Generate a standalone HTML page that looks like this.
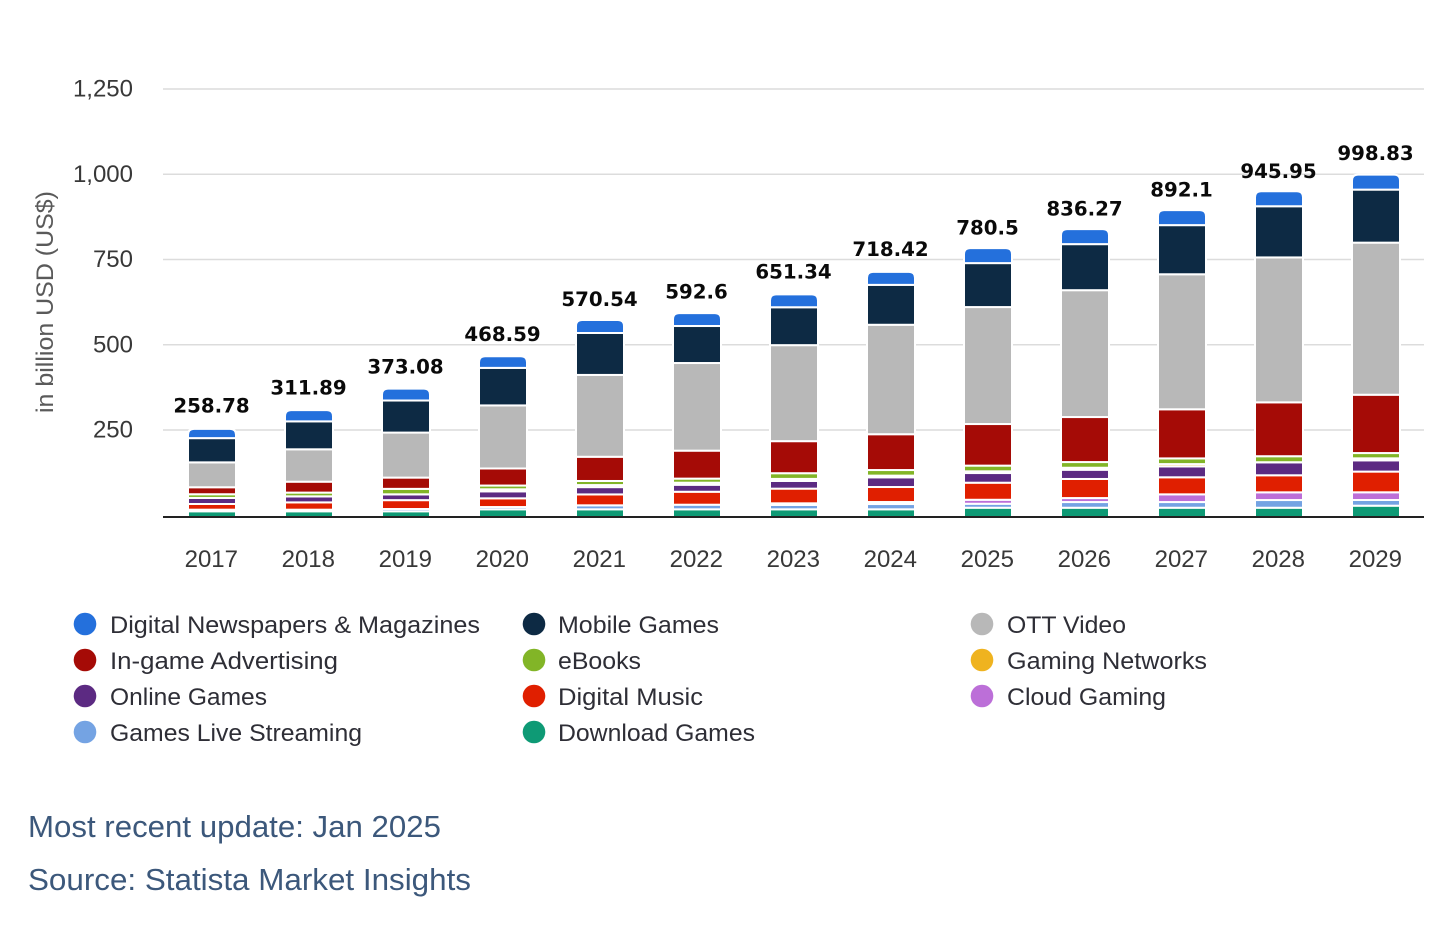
<!DOCTYPE html>
<html lang="en">
<head>
<meta charset="utf-8">
<title>Digital media revenue chart</title>
<style>
html,body{margin:0;padding:0;background:#fff;width:1456px;height:928px;overflow:hidden}
svg{display:block}
text{font-family:"Liberation Sans",sans-serif}
.tick{font-size:24px;fill:#383838}
.leg{font-size:24.5px;fill:#2e2e36}
.total{font-family:"DejaVu Sans",sans-serif;font-size:19.8px;font-weight:bold;fill:#0a0a0a}
.foot{font-size:31px;fill:#3c587b}
</style>
</head>
<body>
<svg id="chart" width="1456" height="928" viewBox="0 0 1456 928" xmlns="http://www.w3.org/2000/svg">
  <g id="grid"></g>
  <g id="yticks"></g>
  <text transform="translate(53,302) rotate(-90)" text-anchor="middle" font-size="24" fill="#5a5a5a" textLength="222" lengthAdjust="spacingAndGlyphs">in billion USD (US$)</text>
  <g id="bars"></g>
  <line x1="163" x2="1424" y1="517" y2="517" stroke="#222" stroke-width="2"/>
  <g id="xticks"></g>
  <g id="totals"></g>

  <g>
    <g><circle cx="85" cy="624" r="11.3" fill="#2470DC"/><text class="leg" x="110" y="633" textLength="370" lengthAdjust="spacingAndGlyphs">Digital Newspapers &amp; Magazines</text></g>
    <g><circle cx="534" cy="624" r="11.3" fill="#0D2A44"/><text class="leg" x="558" y="633" textLength="161" lengthAdjust="spacingAndGlyphs">Mobile Games</text></g>
    <g><circle cx="982" cy="624" r="11.3" fill="#B8B8B8"/><text class="leg" x="1007" y="633" textLength="119" lengthAdjust="spacingAndGlyphs">OTT Video</text></g>
    <g><circle cx="85" cy="660" r="11.3" fill="#A50B06"/><text class="leg" x="110" y="669" textLength="228" lengthAdjust="spacingAndGlyphs">In-game Advertising</text></g>
    <g><circle cx="534" cy="660" r="11.3" fill="#82B527"/><text class="leg" x="558" y="669" textLength="83" lengthAdjust="spacingAndGlyphs">eBooks</text></g>
    <g><circle cx="982" cy="660" r="11.3" fill="#EFB31F"/><text class="leg" x="1007" y="669" textLength="200" lengthAdjust="spacingAndGlyphs">Gaming Networks</text></g>
    <g><circle cx="85" cy="696" r="11.3" fill="#5C2A82"/><text class="leg" x="110" y="705" textLength="157" lengthAdjust="spacingAndGlyphs">Online Games</text></g>
    <g><circle cx="534" cy="696" r="11.3" fill="#E01F00"/><text class="leg" x="558" y="705" textLength="145" lengthAdjust="spacingAndGlyphs">Digital Music</text></g>
    <g><circle cx="982" cy="696" r="11.3" fill="#BC6FD8"/><text class="leg" x="1007" y="705" textLength="159" lengthAdjust="spacingAndGlyphs">Cloud Gaming</text></g>
    <g><circle cx="85" cy="732" r="11.3" fill="#74A3E3"/><text class="leg" x="110" y="741" textLength="252" lengthAdjust="spacingAndGlyphs">Games Live Streaming</text></g>
    <g><circle cx="534" cy="732" r="11.3" fill="#0E9A75"/><text class="leg" x="558" y="741" textLength="197" lengthAdjust="spacingAndGlyphs">Download Games</text></g>
  </g>

  <text class="foot" x="28" y="837" textLength="413" lengthAdjust="spacingAndGlyphs">Most recent update: Jan 2025</text>
  <text class="foot" x="28" y="890" textLength="443" lengthAdjust="spacingAndGlyphs">Source: Statista Market Insights</text>
</svg>
<script>
const years = [2017,2018,2019,2020,2021,2022,2023,2024,2025,2026,2027,2028,2029];
const totalLabels = [258.78,311.89,373.08,468.59,570.54,592.6,651.34,718.42,780.5,836.27,892.1,945.95,998.83];
const yTickValues = [250,500,750,1000,1250];

const downloadGames   = [11.6,11.6,11.6,17.4,17.4,17.4,17.4,17.4,22,22,22,22,28];
const gamesLive       = [4.7,4.7,6.7,6.7,11.7,13.5,12.9,15.5,11.7,16.7,16.7,22.6,16.7];
const cloudGaming     = [0,0,0,0,0,0,4.7,5.9,11.7,11.7,22.6,22.6,22.6];
const digitalMusic    = [16.7,21.4,26,25.5,32,38,43,44,50,56,50,50,60.7];
const onlineGames     = [17.6,17.6,17,20.5,21.4,20.5,22.6,28.4,28.4,27,32,38,33];
const gamingNetworks  = [0.1,0.1,0.1,6,6,6,6,5,5,5.9,6.7,0.3,5.9];
const eBooks          = [10.9,11,16,11,12,12,16.7,16.4,16.7,16.7,16.7,17.6,15.5];
const inGameAds       = [20.5,32,33,50,71,82,94,105,122,132,144,158,171];
const ottVideo        = [73,95,132,185,240,257,281.5,321,343,372,396,425,446];
const mobileGames     = [71,82,94,110,123,108.5,111,117,129,135,144,150,155.5];
const digitalNews     = [27.3,33,35,34,38,38,38,38,44,44,44,44,44];

const seriesNames = ['download-games','games-live-streaming','cloud-gaming','digital-music','online-games','gaming-networks','ebooks','in-game-advertising','ott-video','mobile-games','digital-newspapers'];
const seriesColors = ['#0E9A75','#74A3E3','#BC6FD8','#E01F00','#5C2A82','#EFB31F','#82B527','#A50B06','#B8B8B8','#0D2A44','#2470DC'];
const seriesValues = [downloadGames,gamesLive,cloudGaming,digitalMusic,onlineGames,gamingNetworks,eBooks,inGameAds,ottVideo,mobileGames,digitalNews];

const NS = 'http://www.w3.org/2000/svg';
const plotLeft = 163, plotRight = 1424;
const yZero = 515.25, pxPerUnit = 0.341;
const yScale = v => yZero - v * pxPerUnit;
const xCenter = i => 212 + i * 97;
const barWidth = 48;

function make(tag, attrs, parent){
  const el = document.createElementNS(NS, tag);
  for (const k in attrs) el.setAttribute(k, attrs[k]);
  parent.appendChild(el);
  return el;
}
const gridG = document.getElementById('grid');
const ytG = document.getElementById('yticks');
const xtG = document.getElementById('xticks');
const barsG = document.getElementById('bars');
const totalsG = document.getElementById('totals');

yTickValues.forEach(v => {
  const g = make('line', {x1:plotLeft, x2:plotRight, y1:yScale(v), y2:yScale(v), stroke:'#dcdcdc', 'stroke-width':1.5}, gridG);
  
  
  const t = make('text', {x:133, y:yScale(v)+7.5, 'text-anchor':'end', class:'tick'}, ytG);
  
  
  t.textContent = v.toLocaleString('en-US');
});

years.forEach((yr, i) => {
  const cx = xCenter(i);
  const x0 = cx - barWidth / 2;
  const col = make('g', {}, barsG);
  
  
  let cum = 0;
  seriesValues.forEach((vals, s) => {
    const v = vals[i];
    if (v <= 0) return;
    const yTop = yScale(cum + v);
    let yBot = yScale(cum);
    if (cum === 0) yBot += 2.5;
    const isTop = s === seriesValues.length - 1;
    let seg;
    if (isTop) {
      const r = 6;
      const d = 'M' + x0 + ' ' + yBot + 'V' + (yTop + r) + 'Q' + x0 + ' ' + yTop + ' ' + (x0 + r) + ' ' + yTop +
                'H' + (x0 + barWidth - r) + 'Q' + (x0 + barWidth) + ' ' + yTop + ' ' + (x0 + barWidth) + ' ' + (yTop + r) +
                'V' + yBot + 'Z';
      seg = make('path', {d:d, fill:seriesColors[s], stroke:'#fff', 'stroke-width':2}, col);
    } else {
      seg = make('rect', {x:x0, y:yTop, width:barWidth, height:yBot - yTop, fill:seriesColors[s], stroke:'#fff', 'stroke-width':2}, col);
    }
    
    
    cum += v;
  });

  const xl = make('text', {x:cx - 0.7, y:567, 'text-anchor':'middle', class:'tick'}, xtG);
  
  
  xl.textContent = yr;

  const tl = make('text', {x:cx - 0.5, y:yScale(totalLabels[i]) - 14.5, 'text-anchor':'middle', class:'total'}, totalsG);
  
  
  tl.textContent = totalLabels[i];
});
</script>
</body>
</html>
